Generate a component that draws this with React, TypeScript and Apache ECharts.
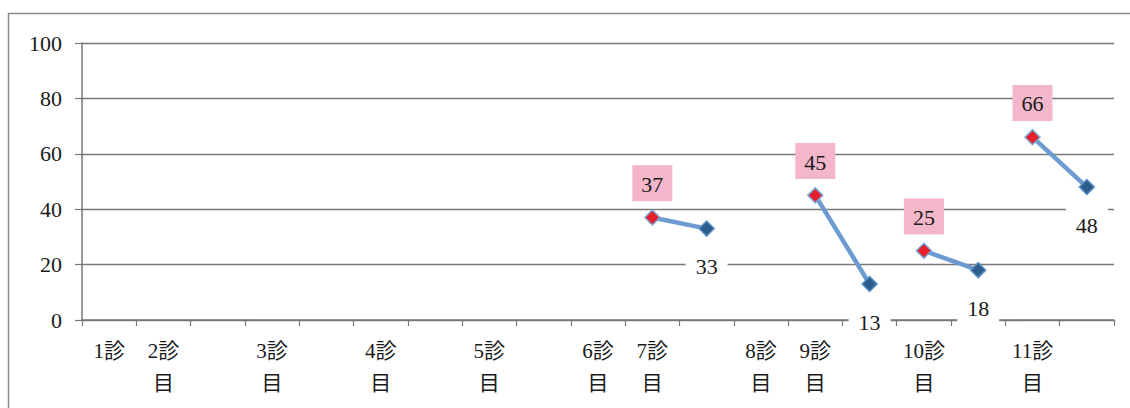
import React, { useEffect, useRef } from "react";
import * as echarts from "echarts";

const categories = [
  "1診", "2診\n目", "", "3診\n目", "", "4診\n目", "", "5診\n目", "", "6診\n目",
  "7診\n目", "", "8診\n目", "9診\n目", "", "10診\n目", "", "11診\n目", "",
];
// red (first) points and blue (second) points, by category index
const preValues: (number | null)[] = [
  null, null, null, null, null, null, null, null, null, null,
  37, null, null, 45, null, 25, null, 66, null,
];
const postValues: (number | null)[] = [
  null, null, null, null, null, null, null, null, null, null,
  null, 33, null, null, 13, null, 18, null, 48,
];
const yTicks = [0, 20, 40, 60, 80, 100];

const FONT = "Liberation Serif, Noto Sans CJK JP, serif";

export default function App() {
  const ref = useRef<HTMLDivElement>(null);
  useEffect(() => {
    if (!ref.current) return;
    const chart = echarts.init(ref.current, null, { renderer: "svg" });

    const series: any[] = [];
    preValues.forEach((v, i) => {
      if (v == null) return;
      const w = postValues[i + 1];
      const data: any[] = categories.map(() => null);
      data[i] = {
        value: v,
        itemStyle: { color: "#e51f2b", borderColor: "#7aa7d8", borderWidth: 1.5 },
        label: {
          show: true,
          position: "top",
          distance: 8,
          backgroundColor: "#f3b6ca",
          padding: [8, 9, 6, 9],
          color: "#1a1a1a",
          fontSize: 22,
          fontFamily: FONT,
        },
      };
      data[i + 1] = {
        value: w,
        itemStyle: { color: "#2d5d8c", borderColor: "#5a8fc4", borderWidth: 1.5 },
        label: {
          show: true,
          position: "bottom",
          distance: 12,
          backgroundColor: "#ffffff",
          padding: [7, 10, 6, 10],
          color: "#1a1a1a",
          fontSize: 22,
          fontFamily: FONT,
        },
      };
      series.push({
        type: "line",
        data,
        symbol: "diamond",
        symbolSize: 15,
        showAllSymbol: true,
        connectNulls: false,
        lineStyle: { color: "#6b9bd1", width: 4.5 },
        z: 3,
      });
    });

    chart.setOption({
      animation: false,
      backgroundColor: "#ffffff",
      grid: { left: 82, right: 16, top: 43, bottom: 88, containLabel: false },
      graphic: [
        {
          type: "rect",
          shape: { x: 8.5, y: 13.5, width: 1140, height: 420 },
          style: { fill: "none", stroke: "#8a8a8a", lineWidth: 1.5 },
          silent: true,
        },
      ],
      xAxis: {
        type: "category",
        data: categories,
        boundaryGap: true,
        axisLine: { lineStyle: { color: "#777", width: 1.5 } },
        axisTick: { show: true, length: 6, lineStyle: { color: "#777", width: 1.2 } },
        axisLabel: {
          interval: 0,
          margin: 15,
          fontSize: 21,
          lineHeight: 32,
          color: "#1a1a1a",
          fontFamily: FONT,
        },
        splitLine: { show: false },
      },
      yAxis: {
        type: "value",
        min: yTicks[0],
        max: yTicks[yTicks.length - 1],
        interval: 20,
        axisLine: { show: true, lineStyle: { color: "#777", width: 1.5 } },
        axisTick: { show: true, length: 7, lineStyle: { color: "#777", width: 1.2 } },
        axisLabel: {
          margin: 20,
          fontSize: 22,
          color: "#1a1a1a",
          fontFamily: FONT,
        },
        splitLine: { show: true, lineStyle: { color: "#777", width: 1.3 } },
      },
      series,
    });
    return () => chart.dispose();
  }, []);
  return (
    <div
      ref={ref}
      style={{ position: "fixed", left: 0, top: 0, width: 1130, height: 408 }}
    />
  );
}
